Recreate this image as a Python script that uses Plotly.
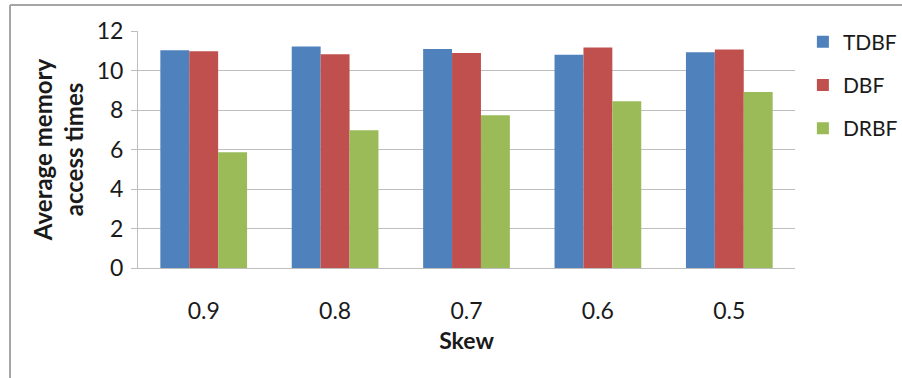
import plotly.graph_objects as go

categories = ["0.9", "0.8", "0.7", "0.6", "0.5"]
tdbf = [11.02, 11.22, 11.09, 10.80, 10.92]
dbf = [10.97, 10.82, 10.89, 11.17, 11.06]
drbf = [5.86, 6.97, 7.73, 8.44, 8.91]
series_names = ["TDBF", "DBF", "DRBF"]
colors = ["#4F81BD", "#C0504D", "#9BBB59"]

W, H = 902, 378
ML, MR, MT, MB = 138, 107, 31, 110
PW, PH = W - ML - MR, H - MT - MB

FONT = "Lato, 'Open Sans', sans-serif"

fig = go.Figure()
for name, vals, col in zip(series_names, [tdbf, dbf, drbf], colors):
    fig.add_trace(go.Bar(x=categories, y=vals, name=name, marker_color=col,
                         marker_line_width=0, legendgroup=name))

def px_x(p):
    return (p - ML) / PW

def px_y(p):
    return (H - MB - p) / PH

grid = "#BEBEBE"
fig.update_layout(
    width=W, height=H,
    margin=dict(l=ML, r=MR, t=MT, b=MB, autoexpand=False),
    paper_bgcolor="white", plot_bgcolor="white",
    font=dict(family=FONT, size=23, color="#1a1a1a"),
    barmode="group", bargap=0.34, bargroupgap=0,
    legend=dict(x=1.012, y=1.04, xanchor="left", yanchor="top",
                font=dict(size=21), tracegroupgap=13, traceorder="grouped",
                bgcolor="rgba(0,0,0,0)"),
    showlegend=True,
    xaxis=dict(
        title=dict(text="<b>Skew</b>", font=dict(size=23), standoff=10),
        showgrid=False, showline=True, linecolor=grid, linewidth=1,
        ticks="", ticklabelstandoff=22, automargin=False,
    ),
    yaxis=dict(
        title=dict(text="<b>Average memory<br>access times</b>", font=dict(size=24), standoff=6),
        range=[0, 12], dtick=2, showgrid=True, gridcolor=grid, gridwidth=1,
        showline=True, linecolor=grid, linewidth=1,
        ticks="outside", ticklen=6, tickcolor=grid, zeroline=False,
        ticklabelstandoff=3, automargin=False,
    ),
    shapes=[
        dict(type="line", xref="paper", yref="paper",
             x0=px_x(10), x1=px_x(10), y0=px_y(5), y1=px_y(H),
             line=dict(color="#A6A6A6", width=2)),
        dict(type="line", xref="paper", yref="paper",
             x0=px_x(10), x1=px_x(W), y0=px_y(5), y1=px_y(5),
             line=dict(color="#A6A6A6", width=2)),
    ],
)

fig.write_html("out.html")
